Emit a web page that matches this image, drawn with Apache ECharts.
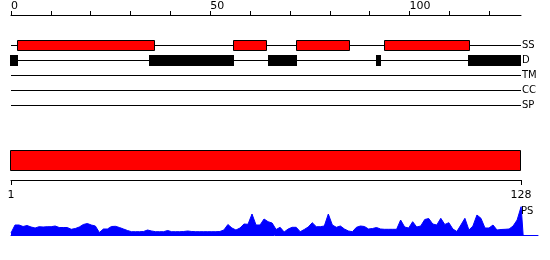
<!DOCTYPE html>
<html><head><meta charset="utf-8">
<script src="https://cdn.jsdelivr.net/npm/echarts@6/dist/echarts.min.js"></script>
<style>html,body{margin:0;padding:0;background:#fff}#c{width:550px;height:260px}</style>
</head><body><div id="c"></div>
<script>
// ---- data ----
const seqLength = 128;
const trackNames = ['SS', 'D', 'TM', 'CC', 'SP'];
const topTicks = [0, 10, 20, 30, 40, 50, 60, 70, 80, 90, 100, 110, 120];
const topLabels = [0, 50, 100];
const bottomTicks = [1, 128];
const ssHelices = [[1.6, 35.8], [55.8, 63.9], [71.6, 84.8], [93.7, 114.9]];
const disorderSegments = [[-0.2, 1.7], [34.6, 56.0], [64.6, 71.7], [91.6, 92.9], [114.8, 127.9]];
const tmSegments = [];
const ccSegments = [];
const spSegments = [];
const domainBar = [1, 128];
const psValues = [
  2, 10, 10, 8.5, 9.5, 8, 7, 8.3, 8, 8.3,
  8.3, 9, 7.5, 7.5, 7.5, 5.7, 6.5, 8, 10.5, 11.5,
  10, 9, 2.5, 6, 6, 8.5, 8.7, 7.5, 6, 4.5,
  3.3, 3.3, 3.3, 3.5, 5, 4, 3.3, 3.3, 3.3, 4.5,
  3.3, 3.3, 3.3, 3.5, 4, 3.5, 3.3, 3.3, 3.3, 3.3,
  3.3, 3.3, 3.5, 5, 10.5, 7, 5, 7, 11, 10.7,
  21, 10, 10, 16, 13.3, 12, 5.5, 7.7, 3, 6,
  7.7, 7.7, 3.3, 5.5, 8, 12.3, 8.3, 8.3, 9, 21,
  10, 7.7, 9, 6, 4, 3.3, 7.7, 9, 8.5, 6,
  6.5, 7.5, 6, 5.7, 5.7, 5.7, 5.7, 15, 8, 7,
  13.3, 8, 9, 15.5, 16.5, 11, 10, 16.7, 10.5, 12.3,
  6, 3.5, 10, 16.7, 5, 9, 20, 16.7, 7, 7,
  10, 5, 5.5, 5.7, 6, 9, 15, 28.3
];
const psEnd = [128.5, 0];

// ---- chart ----
const FONT = '"DejaVu Sans", sans-serif';
const chart = echarts.init(document.getElementById('c'), null, {renderer: 'canvas'});

function px(v) { return Math.round(v) + 0.5; }

const trackLineData = trackNames.map((n, i) => [i]);
function rowsOf(segs, row) { return segs.map(s => [s[0], s[1], row]); }

const option = {
  animation: false,
  backgroundColor: '#fff',
  title: {
    text: 'PS', left: 521, top: 206, padding: 0,
    textStyle: {fontSize: 10, fontWeight: 'normal', fontFamily: FONT, color: '#000'}
  },
  grid: [
    {left: 11, right: 29, top: 15, height: 90},
    {left: 11, right: 29, top: 150, height: 30},
    {left: 11, right: 12, top: 205, height: 30}
  ],
  xAxis: [
    {
      gridIndex: 0, type: 'value', position: 'top', min: 0, max: seqLength,
      axisLine: {show: true, onZero: false, lineStyle: {color: '#000', width: 1}},
      axisTick: {show: true, inside: false, length: 4, customValues: topTicks, lineStyle: {color: '#000'}},
      axisLabel: {show: true, customValues: topLabels, align: 'left', margin: 3,
        fontSize: 11, fontFamily: FONT, color: '#000'},
      splitLine: {show: false}
    },
    {
      gridIndex: 1, type: 'value', position: 'bottom', min: 1, max: seqLength,
      axisLine: {show: true, onZero: false, lineStyle: {color: '#000', width: 1}},
      axisTick: {show: true, length: 5, customValues: bottomTicks, lineStyle: {color: '#000'}},
      axisLabel: {show: true, customValues: bottomTicks, margin: 10,
        fontSize: 11, fontFamily: FONT, color: '#000'},
      splitLine: {show: false}
    },
    {
      gridIndex: 2, type: 'value', position: 'bottom', min: 1, max: 132.2,
      axisLine: {show: true, onZero: false, lineStyle: {color: '#0000ff', width: 1}},
      axisTick: {show: false}, axisLabel: {show: false}, splitLine: {show: false}
    }
  ],
  yAxis: [
    {gridIndex: 0, type: 'value', min: -2, max: 4, inverse: true, show: false},
    {gridIndex: 1, type: 'value', min: 0, max: 3, show: false},
    {gridIndex: 2, type: 'value', min: 0, max: 30, show: false}
  ],
  series: [
    {
      type: 'custom', xAxisIndex: 0, yAxisIndex: 0, data: trackLineData, z: 1,
      renderItem: function (params, api) {
        const r = api.value(0);
        const a = api.coord([0, r]);
        const b = api.coord([seqLength, r]);
        const y = px(a[1]);
        return {
          type: 'group',
          children: [
            {type: 'line', shape: {x1: Math.round(a[0]), y1: y, x2: Math.round(b[0]), y2: y},
              style: {stroke: '#000', lineWidth: 1}},
            {type: 'text', style: {text: trackNames[params.dataIndex], x: Math.round(b[0]) + 1, y: y,
              verticalAlign: 'middle', align: 'left', font: '10px ' + FONT, fill: '#000'}}
          ]
        };
      }
    },
    {
      type: 'custom', xAxisIndex: 0, yAxisIndex: 0, z: 2,
      data: rowsOf(ssHelices, 0),
      renderItem: function (params, api) {
        const a = api.coord([api.value(0), api.value(2)]);
        const b = api.coord([api.value(1), api.value(2)]);
        const x0 = px(a[0]), x1 = px(b[0]), yc = px(a[1]);
        return {type: 'rect', shape: {x: x0, y: yc - 5, width: x1 - x0, height: 10},
          style: {fill: '#ff0000', stroke: '#000', lineWidth: 1}};
      }
    },
    {
      type: 'custom', xAxisIndex: 0, yAxisIndex: 0, z: 2,
      data: rowsOf(disorderSegments, 1).concat(rowsOf(tmSegments, 2), rowsOf(ccSegments, 3), rowsOf(spSegments, 4)),
      renderItem: function (params, api) {
        const a = api.coord([api.value(0), api.value(2)]);
        const b = api.coord([api.value(1), api.value(2)]);
        const x0 = Math.round(a[0]), x1 = Math.round(b[0]), yc = Math.round(a[1]);
        return {type: 'rect', shape: {x: x0, y: yc - 5, width: x1 - x0, height: 11},
          style: {fill: '#000'}};
      }
    },
    {
      type: 'custom', xAxisIndex: 1, yAxisIndex: 1, z: 2,
      data: [domainBar],
      renderItem: function (params, api) {
        const a = api.coord([api.value(0), 3]);
        const b = api.coord([api.value(1), 1]);
        const x0 = Math.round(a[0]) - 0.5, x1 = Math.round(b[0]) - 0.5;
        const y0 = px(a[1]), y1 = px(b[1]);
        return {type: 'rect', shape: {x: x0, y: y0, width: x1 - x0, height: y1 - y0},
          style: {fill: '#ff0000', stroke: '#000', lineWidth: 1}};
      }
    },
    {
      type: 'line', xAxisIndex: 2, yAxisIndex: 2, z: 2,
      data: psValues.map((v, i) => [i + 1, v]).concat([psEnd]),
      symbol: 'none', smooth: false,
      lineStyle: {color: '#0000ff', width: 1},
      areaStyle: {color: '#0000ff', opacity: 1, origin: 'start'}
    }
  ]
};
chart.setOption(option);
</script>
</body></html>
